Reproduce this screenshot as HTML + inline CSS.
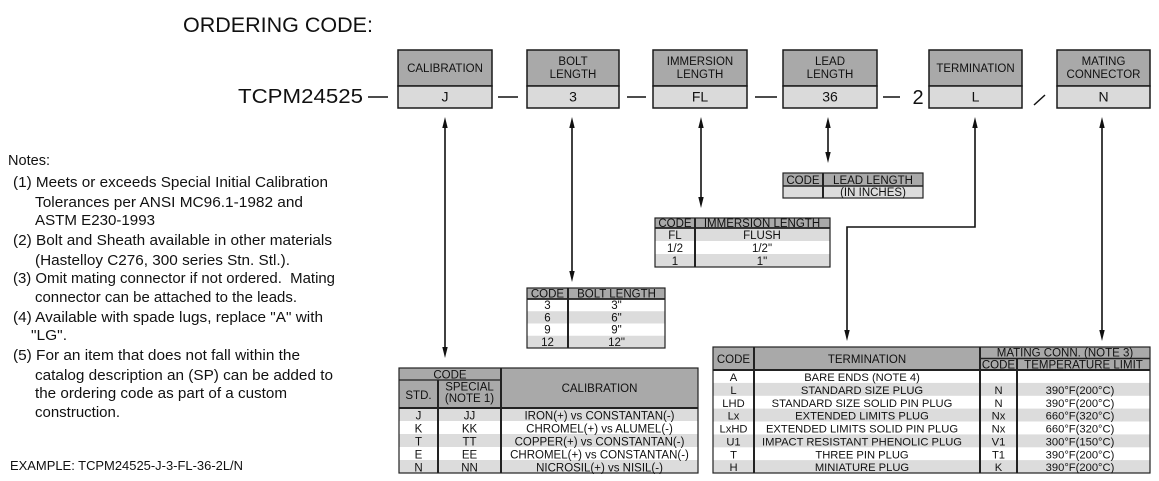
<!DOCTYPE html>
<html><head><meta charset="utf-8">
<style>
html,body{margin:0;padding:0;background:#fff;}
svg{display:block;font-family:"Liberation Sans",Arial,Helvetica,sans-serif;}
</style></head><body>
<svg width="1159" height="481" viewBox="0 0 1159 481" xmlns="http://www.w3.org/2000/svg">
<rect x="0" y="0" width="1159" height="481" fill="#fff"/>

<!-- Title -->
<text x="183" y="32" font-size="21.5" textLength="190" lengthAdjust="spacingAndGlyphs" fill="#111">ORDERING CODE:</text>
<text x="238" y="103" font-size="20.5" textLength="125" lengthAdjust="spacingAndGlyphs" fill="#111">TCPM24525</text>

<!-- dashes -->
<g stroke="#111" stroke-width="1.5">
<line x1="368" y1="97" x2="388" y2="97"/>
<line x1="498" y1="97" x2="518" y2="97"/>
<line x1="627" y1="97" x2="646" y2="97"/>
<line x1="755" y1="97" x2="777" y2="97"/>
<line x1="883" y1="97" x2="900" y2="97"/>
<line x1="1034" y1="105" x2="1045" y2="95"/>
</g>
<text x="918" y="104" font-size="20" text-anchor="middle" fill="#111">2</text>

<!-- header boxes -->
<g stroke="#1a1a1a" stroke-width="1.5">
<rect x="398" y="50" width="94" height="36" fill="#a9a9a9"/><rect x="398" y="86" width="94" height="22" fill="#dadada"/>
<rect x="527" y="50" width="92" height="36" fill="#a9a9a9"/><rect x="527" y="86" width="92" height="22" fill="#dadada"/>
<rect x="653" y="50" width="94" height="36" fill="#a9a9a9"/><rect x="653" y="86" width="94" height="22" fill="#dadada"/>
<rect x="783" y="50" width="94" height="36" fill="#a9a9a9"/><rect x="783" y="86" width="94" height="22" fill="#dadada"/>
<rect x="929" y="50" width="93" height="36" fill="#a9a9a9"/><rect x="929" y="86" width="93" height="22" fill="#dadada"/>
<rect x="1057" y="50" width="93" height="36" fill="#a9a9a9"/><rect x="1057" y="86" width="93" height="22" fill="#dadada"/>
</g>
<g font-size="11.5" text-anchor="middle" fill="#111">
<text x="445" y="72">CALIBRATION</text>
<text x="573" y="65">BOLT</text><text x="573" y="78">LENGTH</text>
<text x="700" y="65">IMMERSION</text><text x="700" y="78">LENGTH</text>
<text x="830" y="65">LEAD</text><text x="830" y="78">LENGTH</text>
<text x="975.5" y="72">TERMINATION</text>
<text x="1103.5" y="65">MATING</text><text x="1103.5" y="78">CONNECTOR</text>
</g>
<g font-size="14" text-anchor="middle" fill="#111">
<text x="445" y="101.5">J</text>
<text x="573" y="101.5">3</text>
<text x="700" y="101.5">FL</text>
<text x="830" y="101.5">36</text>
<text x="975.5" y="101.5">L</text>
<text x="1103.5" y="101.5">N</text>
</g>

<!-- connectors -->
<g stroke="#111" stroke-width="1.6" fill="none">
<line x1="445" y1="122" x2="445" y2="352"/>
<line x1="572" y1="122" x2="572" y2="276"/>
<line x1="701" y1="122" x2="701" y2="202"/>
<line x1="828" y1="122" x2="828" y2="157"/>
<polyline points="975,122 975,227 847,227 847,335"/>
<line x1="1102" y1="122" x2="1102" y2="335"/>
</g>
<g fill="#111">
<polygon points="445,117 442.3,128 447.7,128"/><polygon points="445,358 442.3,347 447.7,347"/>
<polygon points="572,117 569.3,128 574.7,128"/><polygon points="572,282 569.3,271 574.7,271"/>
<polygon points="701,117 698.3,128 703.7,128"/><polygon points="701,208 698.3,197 703.7,197"/>
<polygon points="828,117 825.3,128 830.7,128"/><polygon points="828,163 825.3,152 830.7,152"/>
<polygon points="975,117 972.3,128 977.7,128"/><polygon points="847,341 844.3,330 849.7,330"/>
<polygon points="1102,117 1099.3,128 1104.7,128"/><polygon points="1102,341 1099.3,330 1104.7,330"/>
</g>

<!-- Notes -->
<g font-size="15" fill="#111">
<text x="8" y="165" textLength="42" lengthAdjust="spacingAndGlyphs">Notes:</text>
<text x="13" y="187" textLength="315" lengthAdjust="spacingAndGlyphs">(1) Meets or exceeds Special Initial Calibration</text>
<text x="35" y="207" textLength="268" lengthAdjust="spacingAndGlyphs">Tolerances per ANSI MC96.1-1982 and</text>
<text x="35" y="225" textLength="120" lengthAdjust="spacingAndGlyphs">ASTM E230-1993</text>
<text x="13" y="245" textLength="319" lengthAdjust="spacingAndGlyphs">(2) Bolt and Sheath available in other materials</text>
<text x="35" y="265" textLength="255" lengthAdjust="spacingAndGlyphs">(Hastelloy C276, 300 series Stn. Stl.).</text>
<text x="13" y="283" textLength="322" lengthAdjust="spacingAndGlyphs">(3) Omit mating connector if not ordered.&#160; Mating</text>
<text x="35" y="302" textLength="262" lengthAdjust="spacingAndGlyphs">connector can be attached to the leads.</text>
<text x="13" y="322" textLength="310" lengthAdjust="spacingAndGlyphs">(4) Available with spade lugs, replace "A" with</text>
<text x="31" y="340" textLength="36" lengthAdjust="spacingAndGlyphs">"LG".</text>
<text x="13" y="360" textLength="287" lengthAdjust="spacingAndGlyphs">(5) For an item that does not fall within the</text>
<text x="35" y="380" textLength="298" lengthAdjust="spacingAndGlyphs">catalog description an (SP) can be added to</text>
<text x="35" y="398" textLength="252" lengthAdjust="spacingAndGlyphs">the ordering code as part of a custom</text>
<text x="35" y="417" textLength="85" lengthAdjust="spacingAndGlyphs">construction.</text>
</g>
<text x="10" y="470" font-size="12.5" textLength="233" lengthAdjust="spacingAndGlyphs" fill="#111">EXAMPLE: TCPM24525-J-3-FL-36-2L/N</text>

<!-- Lead length table -->
<rect x="783" y="173" width="140" height="13" fill="#a9a9a9"/>
<rect x="783" y="186" width="140" height="12" fill="#dcdcdc"/>
<g stroke="#222" fill="none">
<rect x="783" y="173" width="140" height="25" stroke-width="1.2"/>
<line x1="783" y1="186" x2="923" y2="186" stroke-width="1.5"/>
<line x1="823" y1="173" x2="823" y2="198" stroke-width="2"/>
</g>
<g font-size="11.5" text-anchor="middle" fill="#111">
<text x="803" y="184">CODE</text><text x="873" y="184">LEAD LENGTH</text>
<text x="873" y="196">(IN INCHES)</text>
</g>

<!-- Immersion table -->
<rect x="655" y="218" width="175" height="10" fill="#a9a9a9"/>
<rect x="655" y="228" width="175" height="13" fill="#dcdcdc"/>
<rect x="655" y="254" width="175" height="13" fill="#dcdcdc"/>
<g stroke="#222" fill="none">
<rect x="655" y="218" width="175" height="49" stroke-width="1.2"/>
<line x1="655" y1="228" x2="830" y2="228" stroke-width="1.8"/>
<line x1="695" y1="218" x2="695" y2="267" stroke-width="2"/>
</g>
<g font-size="11.5" text-anchor="middle" fill="#111">
<text x="675" y="227">CODE</text><text x="762" y="227">IMMERSION LENGTH</text>
<text x="675" y="239">FL</text><text x="762" y="239">FLUSH</text>
<text x="675" y="252">1/2</text><text x="762" y="252">1/2"</text>
<text x="675" y="265">1</text><text x="762" y="265">1"</text>
</g>

<!-- Bolt table -->
<rect x="527" y="288" width="138" height="11" fill="#a9a9a9"/>
<rect x="527" y="311.25" width="138" height="12.25" fill="#dcdcdc"/>
<rect x="527" y="335.75" width="138" height="12.25" fill="#dcdcdc"/>
<g stroke="#222" fill="none">
<rect x="527" y="288" width="138" height="60" stroke-width="1.2"/>
<line x1="527" y1="299" x2="665" y2="299" stroke-width="1.8"/>
<line x1="568" y1="288" x2="568" y2="348" stroke-width="2"/>
</g>
<g font-size="11.5" text-anchor="middle" fill="#111">
<text x="547.5" y="297.5">CODE</text><text x="616.5" y="297.5">BOLT LENGTH</text>
<text x="547.5" y="309">3</text><text x="616.5" y="309">3"</text>
<text x="547.5" y="321.5">6</text><text x="616.5" y="321.5">6"</text>
<text x="547.5" y="333.5">9</text><text x="616.5" y="333.5">9"</text>
<text x="547.5" y="346">12</text><text x="616.5" y="346">12"</text>
</g>

<!-- Calibration table -->
<rect x="399" y="368" width="299" height="40" fill="#a9a9a9"/>
<rect x="399" y="408" width="299" height="13" fill="#dcdcdc"/>
<rect x="399" y="434" width="299" height="13" fill="#dcdcdc"/>
<rect x="399" y="460" width="299" height="13" fill="#dcdcdc"/>
<g stroke="#222" fill="none">
<rect x="399" y="368" width="299" height="105" stroke-width="1.2"/>
<line x1="399" y1="380" x2="501" y2="380" stroke-width="1.3"/>
<line x1="399" y1="408" x2="698" y2="408" stroke-width="2"/>
<line x1="438" y1="380" x2="438" y2="473" stroke-width="2"/>
<line x1="501" y1="368" x2="501" y2="473" stroke-width="2"/>
</g>
<g font-size="11.5" text-anchor="middle" fill="#111">
<text x="450" y="378.5">CODE</text>
<text x="418.5" y="399">STD.</text>
<text x="469.5" y="390.5">SPECIAL</text><text x="469.5" y="402">(NOTE 1)</text>
<text x="599.5" y="392">CALIBRATION</text>
<text x="418.5" y="419.5">J</text><text x="469.5" y="419.5">JJ</text><text x="599.5" y="419.5">IRON(+) vs CONSTANTAN(-)</text>
<text x="418.5" y="432.5">K</text><text x="469.5" y="432.5">KK</text><text x="599.5" y="432.5">CHROMEL(+) vs ALUMEL(-)</text>
<text x="418.5" y="445.5">T</text><text x="469.5" y="445.5">TT</text><text x="599.5" y="445.5">COPPER(+) vs CONSTANTAN(-)</text>
<text x="418.5" y="458.5">E</text><text x="469.5" y="458.5">EE</text><text x="599.5" y="458.5">CHROMEL(+) vs CONSTANTAN(-)</text>
<text x="418.5" y="471.5">N</text><text x="469.5" y="471.5">NN</text><text x="599.5" y="471.5">NICROSIL(+) vs NISIL(-)</text>
</g>

<!-- Termination table -->
<rect x="713" y="347" width="437" height="23" fill="#a9a9a9"/>
<rect x="713" y="382.9" width="437" height="12.9" fill="#dcdcdc"/>
<rect x="713" y="408.6" width="437" height="12.9" fill="#dcdcdc"/>
<rect x="713" y="434.4" width="437" height="12.9" fill="#dcdcdc"/>
<rect x="713" y="460.1" width="437" height="12.9" fill="#dcdcdc"/>
<g stroke="#222" fill="none">
<rect x="713" y="347" width="437" height="126" stroke-width="1.2"/>
<line x1="980" y1="358.5" x2="1150" y2="358.5" stroke-width="1.5"/>
<line x1="713" y1="370" x2="1150" y2="370" stroke-width="2"/>
<line x1="754" y1="347" x2="754" y2="473" stroke-width="2"/>
<line x1="980" y1="347" x2="980" y2="473" stroke-width="2"/>
<line x1="1017" y1="358.5" x2="1017" y2="473" stroke-width="2"/>
</g>
<g font-size="11.5" text-anchor="middle" fill="#111">
<text x="733.5" y="363">CODE</text>
<text x="867" y="363">TERMINATION</text>
<text x="1065" y="356.5">MATING CONN. (NOTE 3)</text>
<text x="998.5" y="368.5">CODE</text>
<text x="1083.5" y="368.5">TEMPERATURE LIMIT</text>
</g>
<g font-size="11.2" text-anchor="middle" fill="#111">
<text x="733.5" y="381">A</text><text x="862" y="381">BARE ENDS (NOTE 4)</text>
<text x="733.5" y="394">L</text><text x="862" y="394">STANDARD SIZE PLUG</text><text x="998.5" y="394">N</text><text x="1080" y="394">390°F(200°C)</text>
<text x="733.5" y="406.8">LHD</text><text x="862" y="406.8">STANDARD SIZE SOLID PIN PLUG</text><text x="998.5" y="406.8">N</text><text x="1080" y="406.8">390°F(200°C)</text>
<text x="733.5" y="419.7">Lx</text><text x="862" y="419.7">EXTENDED LIMITS PLUG</text><text x="998.5" y="419.7">Nx</text><text x="1080" y="419.7">660°F(320°C)</text>
<text x="733.5" y="432.6">LxHD</text><text x="862" y="432.6">EXTENDED LIMITS SOLID PIN PLUG</text><text x="998.5" y="432.6">Nx</text><text x="1080" y="432.6">660°F(320°C)</text>
<text x="733.5" y="445.5">U1</text><text x="862" y="445.5">IMPACT RESISTANT PHENOLIC PLUG</text><text x="998.5" y="445.5">V1</text><text x="1080" y="445.5">300°F(150°C)</text>
<text x="733.5" y="458.4">T</text><text x="862" y="458.4">THREE PIN PLUG</text><text x="998.5" y="458.4">T1</text><text x="1080" y="458.4">390°F(200°C)</text>
<text x="733.5" y="471.2">H</text><text x="862" y="471.2">MINIATURE PLUG</text><text x="998.5" y="471.2">K</text><text x="1080" y="471.2">390°F(200°C)</text>
</g>
</svg>
</body></html>
